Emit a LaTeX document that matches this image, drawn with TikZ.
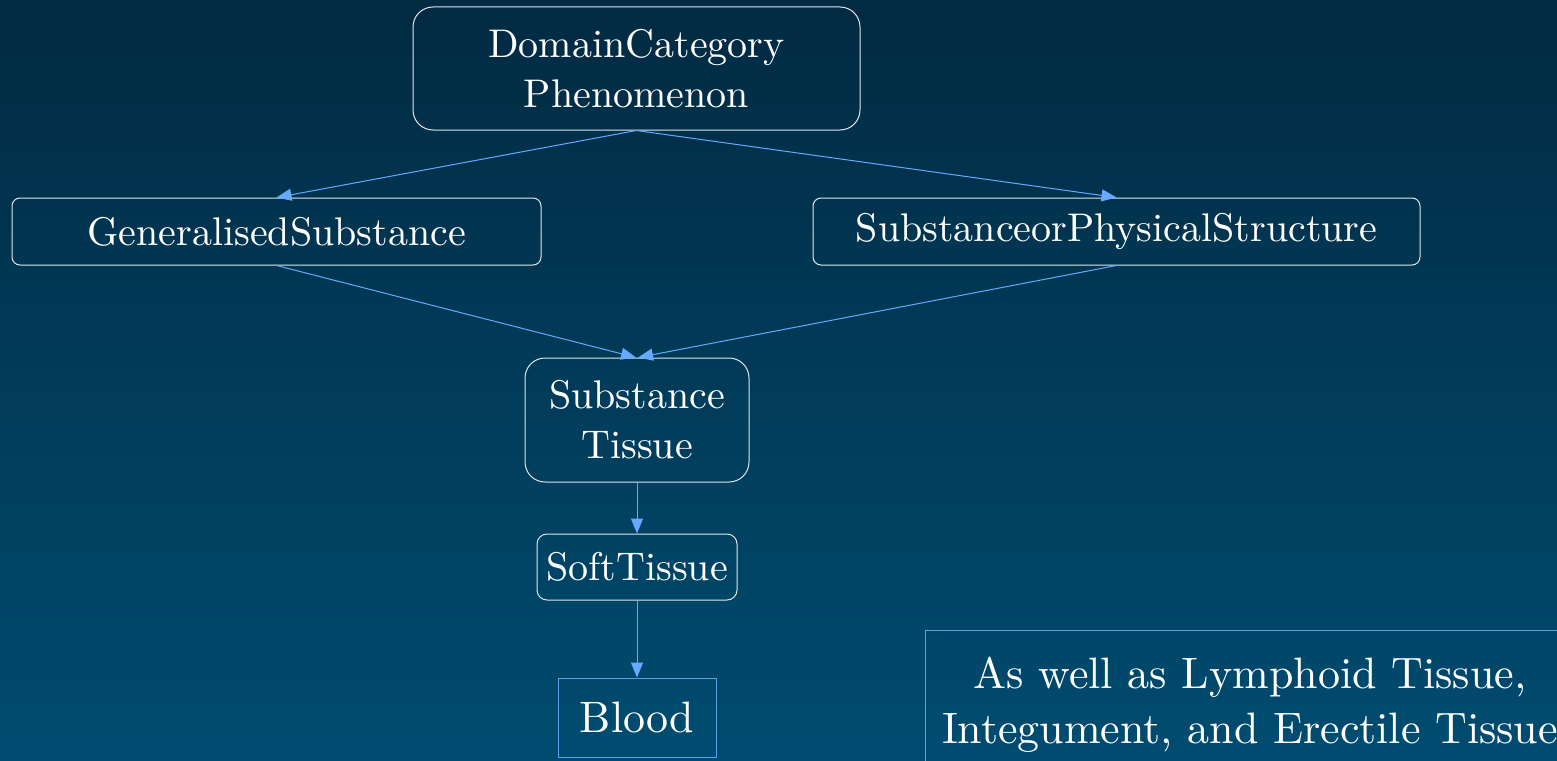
\documentclass[tikz,border=0pt]{standalone}
\usepackage{fontspec}
\setmainfont{lmroman10-regular.otf}
\usetikzlibrary{arrows.meta}
\definecolor{bgtop}{RGB}{2,42,66}
\definecolor{bgbot}{RGB}{0,76,112}
\definecolor{edgeblue}{RGB}{102,170,255}
\definecolor{boxline}{RGB}{225,230,235}
\definecolor{leafline}{RGB}{95,160,235}
\tikzset{
  concept/.style={draw=boxline, line width=1pt, rounded corners=#1, text=white,
    align=center, inner sep=0pt, font=\fontsize{40}{50}\selectfont},
  concept/.default=10pt,
  leaf/.style={draw=leafline, line width=1pt, text=white, align=center,
    inner sep=0pt, font=\fontsize{44}{55}\selectfont},
  isa/.style={draw=edgeblue, line width=1pt, -{Triangle[length=15pt,width=12pt]}}
}
\begin{document}
\begin{tikzpicture}[x=1pt,y=-1pt]
  \useasboundingbox (0,0) rectangle (1557,760);
  \clip (0,0) rectangle (1557,760);
  \shade[top color=bgtop, bottom color=bgbot] (0,0) rectangle (1557,760);

  % concept hierarchy
  \node[concept=20pt, minimum width=447pt, minimum height=123pt] (dc) at (636.5,68.5)
    {DomainCategory\\Phenomenon};
  \node[concept=8pt, minimum width=529pt, minimum height=67pt] (gs) at (276.5,231.5)
    {GeneralisedSubstance};
  \node[concept=8pt, minimum width=607pt, minimum height=67pt] (sps) at (1116.5,231.5)
    {SubstanceorPhysicalStructure};
  \node[concept=20pt, minimum width=224pt, minimum height=124pt] (st) at (637,420)
    {Substance\\Tissue};
  \node[concept=10pt, minimum width=200pt, minimum height=66pt] (soft) at (637,567)
    {SoftTissue};
  \node[leaf, minimum width=158pt, minimum height=79pt] (blood) at (637,717.5)
    {Blood};

  % side note
  \node[leaf, anchor=north west, minimum width=649pt, minimum height=149pt] (note) at (925,630)
    {As well as Lymphoid Tissue,\\Integument, and Erectile Tissue};

  % subsumption links
  \draw[isa] (dc.south) -- (gs.north);
  \draw[isa] (dc.south) -- (sps.north);
  \draw[isa] (gs.south) -- ([xshift=-1pt]st.north);
  \draw[isa] (sps.south) -- ([xshift=1pt]st.north);
  \draw[isa] (st.south) -- (soft.north);
  \draw[isa] (soft.south) -- (blood.north);
\end{tikzpicture}
\end{document}
